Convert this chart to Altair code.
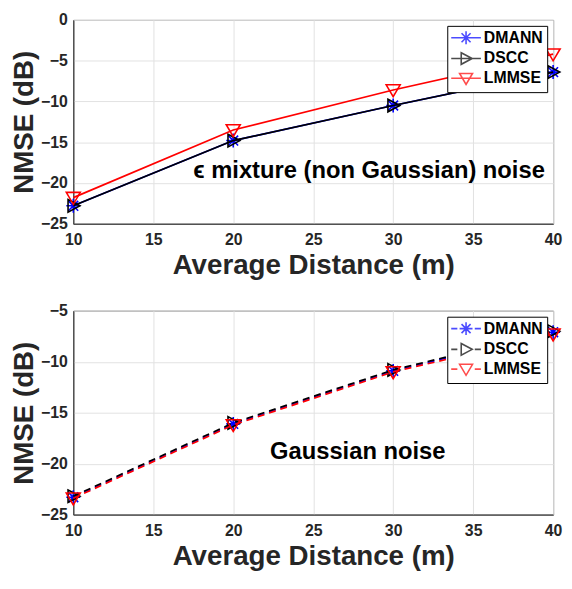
import altair as alt
import pandas as pd

# ---------------- data ----------------
distance = [10, 20, 30, 40]
series = ["DMANN", "DSCC", "LMMSE"]
colors = ["#0000ff", "#000000", "#ff0000"]

top_dmann = [-22.8, -14.8, -10.5, -6.4]
top_dscc = [-22.8, -14.8, -10.5, -6.4]
top_lmmse = [-21.8, -13.5, -8.6, -4.2]

bot_dmann = [-23.3, -16.1, -10.9, -7.1]
bot_dscc = [-23.2, -16.0, -10.8, -7.0]
bot_lmmse = [-23.4, -16.2, -11.0, -7.3]

x_ticks = [10, 15, 20, 25, 30, 35, 40]
top_y_ticks = [-25, -20, -15, -10, -5, 0]
bot_y_ticks = [-25, -20, -15, -10, -5]

top_note = ["\u03f5 mixture (non Gaussian) noise"]
top_note_x = [17.5]
top_note_y = [-18.5]
bot_note = ["Gaussian noise"]
bot_note_x = [22.3]
bot_note_y = [-18.9]

# ---------------- styles ----------------
FONT = "Liberation Sans"
W, H = 485, 206
marker_paths = [
    "M-1,0L1,0M0,-1L0,1M-0.7,-0.7L0.7,0.7M-0.7,0.7L0.7,-0.7",
    "M-0.75,-0.9L0.95,0L-0.75,0.9Z",
    "M-1,-0.75L1,-0.75L0,0.95Z",
]
solid_stub = "M-2.3,0L2.3,0"
dash_stub = "M-2.3,0L-1.35,0M1.35,0L2.3,0"


def long_df(vals):
    rows = []
    for s, v in zip(series, vals):
        for d, y in zip(distance, v):
            rows.append({"distance": d, "nmse": y, "series": s})
    return pd.DataFrame(rows)


def panel(vals, y_domain, y_ticks, note, nx, ny, dashed):
    df = long_df(vals)
    base = alt.Chart(df)
    xenc = alt.X(
        "distance:Q",
        scale=alt.Scale(domain=[10, 40], nice=False),
        axis=alt.Axis(values=x_ticks, title="Average Distance (m)"),
    )
    yenc = alt.Y(
        "nmse:Q",
        scale=alt.Scale(domain=y_domain, nice=False),
        axis=alt.Axis(values=y_ticks, title="NMSE (dB)"),
    )
    layers = []
    for s, c, p in zip(series, colors, marker_paths):
        line_kwargs = dict(color=c, strokeWidth=1.7)
        if dashed:
            line_kwargs["strokeDash"] = [7, 5]
        layers.append(
            base.transform_filter(alt.datum.series == s)
            .mark_line(**line_kwargs)
            .encode(x=xenc, y=yenc)
        )
        layers.append(
            base.transform_filter(alt.datum.series == s)
            .mark_point(shape=p, filled=False, size=200, strokeWidth=1.6, color=c, opacity=1)
            .encode(x=xenc, y=yenc)
        )
    note_df = pd.DataFrame({"x": nx, "y": ny, "text": note})
    layers.append(
        alt.Chart(note_df)
        .mark_text(align="left", baseline="middle", fontSize=24, fontWeight="bold", font=FONT, color="#000000")
        .encode(x=alt.X("x:Q", scale=alt.Scale(domain=[10, 40], nice=False)),
                y=alt.Y("y:Q", scale=alt.Scale(domain=y_domain, nice=False)),
                text="text:N")
    )
    stub = dash_stub if dashed else solid_stub
    leg = alt.Legend(
        title=None,
        orient="top-right",
        offset=6,
        fillColor="#ffffff",
        strokeColor="#000000",
        padding=4,
        labelFont=FONT,
        labelFontSize=16,
        labelFontWeight="bold",
        labelColor="#000000",
        labelOffset=10,
        symbolOffset=7,
        symbolSize=170,
        symbolStrokeWidth=1.6,
        rowPadding=1,
        cornerRadius=0,
    )
    layers.append(
        base.transform_filter("datum.distance < 0")
        .mark_point(filled=False, size=200, strokeWidth=1.6)
        .encode(
            x=xenc,
            y=yenc,
            color=alt.Color("series:N", scale=alt.Scale(domain=series, range=colors), legend=leg),
            shape=alt.Shape("series:N", scale=alt.Scale(domain=series, range=[stub + p for p in marker_paths]), legend=leg),
        )
    )
    return alt.layer(*layers).properties(width=W, height=H)


top = panel([top_dmann, top_dscc, top_lmmse], [-25, 0], top_y_ticks, top_note, top_note_x, top_note_y, False)
bot = panel([bot_dmann, bot_dscc, bot_lmmse], [-25, -5], bot_y_ticks, bot_note, bot_note_x, bot_note_y, True)

chart = (
    alt.vconcat(top, bot, spacing=22)
    .resolve_scale(color="independent", shape="independent")
    .resolve_legend(color="independent", shape="independent")
    .properties(padding={"left": 2, "top": 0, "right": 0, "bottom": 0})
    .configure_axis(
        labelFont=FONT,
        labelFontSize=16,
        labelFontWeight="bold",
        labelColor="#262626",
        labelPadding=6,
        labelFlush=False,
        titleFont=FONT,
        titleFontSize=28,
        titleFontWeight="bold",
        titleColor="#262626",
        gridColor="#e2e2e2",
        gridWidth=1,
        domainColor="#262626",
        domainWidth=1,
        ticks=False,
    )
    .configure_axisY(titlePadding=2)
    .configure_axisX(titlePadding=4, labelPadding=8)
    .configure_view(stroke="#262626", strokeWidth=1)
)

chart.save("out.html", embed_options={"renderer": "svg", "actions": False})
